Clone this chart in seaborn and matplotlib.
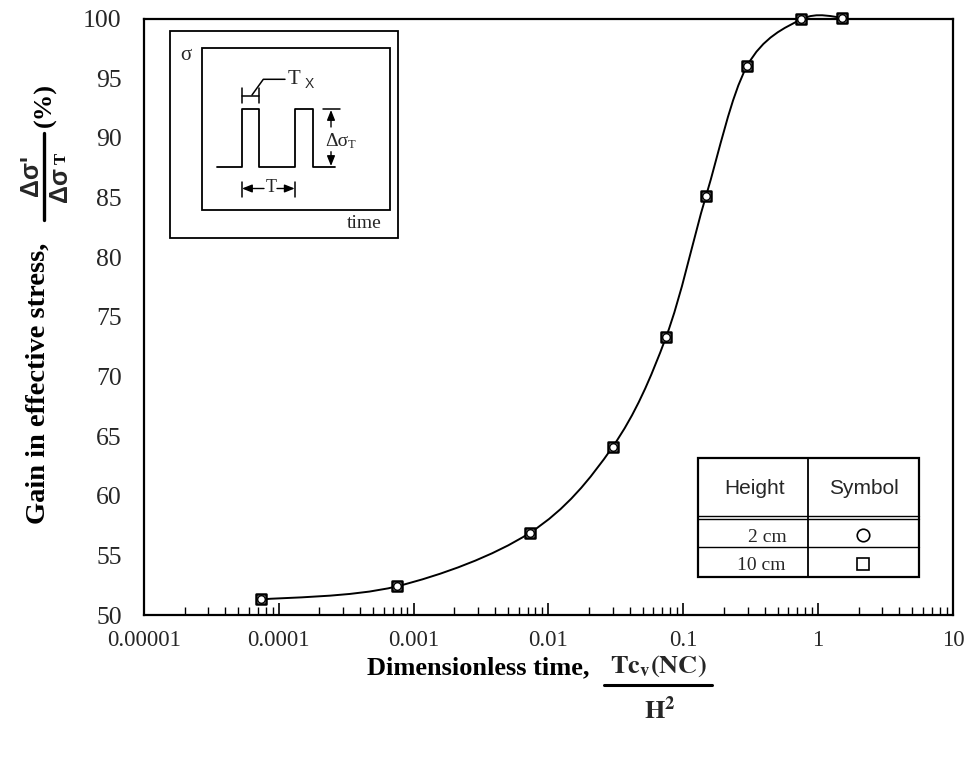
import numpy as np
import matplotlib
matplotlib.use("Agg")
import matplotlib.pyplot as plt
from matplotlib.path import Path
from matplotlib.patches import PathPatch, Rectangle
from matplotlib.ticker import LogLocator, FixedLocator, NullFormatter, FixedFormatter
import seaborn as sns

# data
time_nd = [7.35e-5, 7.48e-4, 7.29e-3, 0.0299, 0.0744, 0.147, 0.296, 0.750, 1.50]
gain = [51.3, 52.4, 56.9, 64.1, 73.3, 85.1, 96.0, 99.95, 100.1]
xtick_vals = [1e-5, 1e-4, 1e-3, 1e-2, 1e-1, 1, 10]
xtick_labels = ["0.00001", "0.0001", "0.001", "0.01", "0.1", "1", "10"]
ytick_vals = list(range(50, 101, 5))

sns.set_theme(style="white")
plt.rcParams["font.family"] = ["Liberation Serif", "DejaVu Serif"]
plt.rcParams["mathtext.fontset"] = "stix"

W, H = 974, 763
fig = plt.figure(figsize=(W / 100, H / 100), dpi=100)
ax = fig.add_axes([144 / W, 1 - 615 / H, (953 - 144) / W, (615 - 18.7) / H])

ax.set_xscale("log")
ax.set_xlim(1e-5, 10)
ax.set_ylim(50, 100)

# smooth line (Excel-style bezier through the points, in log-x space)
lx = np.log10(time_nd)
gy = np.array(gain)
pts = np.column_stack([lx, gy])
verts = [pts[0]]
codes = [Path.MOVETO]
n = len(pts)
for i in range(n - 1):
    p0 = pts[max(i - 1, 0)]
    p1 = pts[i]
    p2 = pts[i + 1]
    p3 = pts[min(i + 2, n - 1)]
    c1 = p1 + (p2 - p0) / 6
    c2 = p2 - (p3 - p1) / 6
    verts += [c1, c2, p2]
    codes += [Path.CURVE4] * 3
verts = np.array(verts)
verts[:, 0] = 10 ** verts[:, 0]
ax.add_patch(PathPatch(Path(verts, codes), fill=False, edgecolor="black",
                       lw=1.4, clip_on=False, zorder=3))

sns.scatterplot(x=time_nd, y=gain, marker="s", s=62, facecolor="white",
                edgecolor="black", linewidth=1.8, ax=ax, zorder=4, clip_on=False)
sns.scatterplot(x=time_nd, y=gain, marker="o", s=30, facecolor="white",
                edgecolor="black", linewidth=1.0, ax=ax, zorder=5, clip_on=False)

for sp in ax.spines.values():
    sp.set_visible(True)
    sp.set_linewidth(1.6)
    sp.set_color("black")

ax.xaxis.set_major_locator(FixedLocator(xtick_vals))
ax.xaxis.set_major_formatter(FixedFormatter(xtick_labels))
ax.xaxis.set_minor_locator(LogLocator(base=10, subs=np.arange(2, 10)))
ax.xaxis.set_minor_formatter(NullFormatter())
ax.set_yticks(ytick_vals)
ax.tick_params(axis="x", which="major", direction="in", length=9, width=1.2,
               labelsize=16.5, pad=11, color="black", bottom=True)
ax.tick_params(axis="x", which="minor", direction="in", length=6, width=1.0,
               color="black", bottom=True)
ax.tick_params(axis="y", which="major", direction="in", length=0, width=1.0,
               labelsize=18.5, pad=16, left=True)
ax.grid(False)

# overlay in pixel coords for the labels, inset sketch and symbol table
ov = fig.add_axes([0, 0, 1, 1], zorder=10)
ov.set_xlim(0, W)
ov.set_ylim(H, 0)
ov.axis("off")
ov.patch.set_alpha(0)

bold_serif = dict(family="Liberation Serif", fontweight="bold", color="black")
ov.text(478, 668, "Dimensionless time,", fontsize=19, ha="center", va="center", **bold_serif)
ov.text(658, 666, r"$\mathbf{Tc_v(NC)}$", fontsize=19, ha="center", va="center")
ov.plot([604, 712], [685, 685], color="black", lw=2.2)
ov.text(660, 710, r"$\mathbf{H^2}$", fontsize=19, ha="center", va="center")

ov.text(38, 383, "Gain in effective stress,", fontsize=20.5, rotation=90,
        ha="center", va="center", **bold_serif)
ov.text(31, 176, "\u0394\u03c3'", fontsize=18, rotation=90, ha="center", va="center",
        family="Liberation Sans", fontweight="bold")
ov.plot([44, 44], [133, 220], color="black", lw=2.4)
ov.text(60, 184, "\u0394\u03c3", fontsize=18, rotation=90, ha="center", va="center",
        family="Liberation Sans", fontweight="bold")
ov.text(62, 158, "T", fontsize=12, rotation=90, ha="center", va="center", **bold_serif)
ov.text(45, 105, "(%)", fontsize=19, rotation=90, ha="center", va="center", **bold_serif)

# inset sketch
ov.add_patch(Rectangle((170, 31), 228, 207, fill=False, ec="black", lw=1.3))
ov.add_patch(Rectangle((201.7, 48), 188.3, 162, fill=False, ec="black", lw=1.3))
wx = [216.7, 241.7, 241.7, 259.3, 259.3, 295, 295, 312.7, 312.7, 335]
wy = [166.7, 166.7, 109.3, 109.3, 166.7, 166.7, 109.3, 109.3, 166.7, 166.7]
ov.plot(wx, wy, color="black", lw=1.3)
ov.plot([323, 340], [109.3, 109.3], color="black", lw=1.1)
arr = dict(arrowstyle="-|>,head_length=0.5,head_width=0.2", color="black", lw=1.0,
           shrinkA=0, shrinkB=0)
ov.annotate("", xy=(331, 110), xytext=(331, 127), arrowprops=arr)
ov.annotate("", xy=(331, 166), xytext=(331, 151.7), arrowprops=arr)
ov.text(337, 141.5, "\u0394\u03c3", fontsize=14, ha="center", va="center")
ov.text(351.5, 145.5, "T", fontsize=9, ha="center", va="center")
ov.plot([241.7, 259.3], [96, 96], color="black", lw=1.1)
ov.plot([241.7, 241.7], [88.3, 103.3], color="black", lw=1.1)
ov.plot([259.3, 259.3], [88.3, 103.3], color="black", lw=1.1)
ov.plot([252, 263.3, 285], [95, 79.3, 79.3], color="black", lw=1.1)
ov.text(294, 80, "T", fontsize=15, ha="center", va="center")
ov.text(309, 84, "X", fontsize=10, ha="center", va="center", family="Liberation Sans")
ov.plot([241.7, 241.7], [181.7, 196.7], color="black", lw=1.1)
ov.plot([295, 295], [181.7, 196.7], color="black", lw=1.1)
ov.annotate("", xy=(242, 188.5), xytext=(264, 188.5), arrowprops=arr)
ov.annotate("", xy=(294.7, 188.5), xytext=(277, 188.5), arrowprops=arr)
ov.text(270.8, 188, "T", fontsize=13, ha="center", va="center")
ov.text(186, 55, "\u03c3", fontsize=15, ha="center", va="center")
ov.text(364, 224, "time", fontsize=14, ha="center", va="center")

# symbol table
tl, tr, tt, tb, tc = 698.3, 919.3, 458.3, 576.7, 808.3
ov.add_patch(Rectangle((tl, tt), tr - tl, tb - tt, fill=True, fc="white", ec="black", lw=1.6))
ov.plot([tc, tc], [tt, tb], color="black", lw=1.3)
ov.plot([tl, tr], [516, 516], color="black", lw=1.0)
ov.plot([tl, tr], [519, 519], color="black", lw=1.0)
ov.plot([tl, tr], [547.3, 547.3], color="black", lw=1.0)
ov.text(755, 488, "Height", fontsize=15, ha="center", va="center", family="Liberation Sans")
ov.text(863.7, 488, "Symbol", fontsize=15, ha="center", va="center", family="Liberation Sans")
ov.text(767.5, 537, "2 cm", fontsize=14, ha="center", va="center")
ov.text(761.7, 565, "10 cm", fontsize=14, ha="center", va="center")
ov.plot([863.3], [535], marker="o", ms=9, mfc="white", mec="black", mew=1.2)
ov.plot([863.3], [564], marker="s", ms=9, mfc="white", mec="black", mew=1.2)

fig.savefig("out.png", dpi=100)
